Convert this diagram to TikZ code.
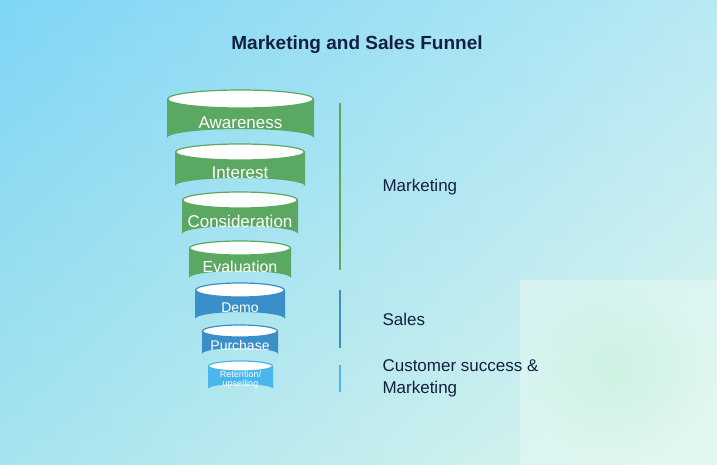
\documentclass[tikz,border=0pt]{standalone}
\usepackage{fontspec}
\setmainfont{Liberation Sans}
\definecolor{gr}{HTML}{5BA862}
\definecolor{bl}{HTML}{3A8FC8}
\definecolor{lb}{HTML}{4BB6EC}
\definecolor{navy}{HTML}{142040}
\definecolor{bgc}{HTML}{7FD6F5}
\definecolor{bgw}{HTML}{E8F9F3}
\definecolor{bgm}{HTML}{D6F4E6}
\definecolor{bgg}{HTML}{CDF2D7}
\newcommand{\cylx}[9]{%
 \fill[#6] (#1,#3) -- (#1,#4) arc[start angle=180,end angle=360,x radius={(#2-#1)/2},y radius=#5] -- (#2,#3) -- cycle;
 \filldraw[fill=white,draw=#6,line width=1.2pt] ({(#1+#2)/2},#3) ellipse[x radius={(#2-#1)/2-0.6},y radius=#5];
 \node[txt,font=\fontsize{#8}{#8}\selectfont,align=center] (#9) at ({(#1+#2)/2},{(#3+#4)/2+#5*0.5}) {#7};}
\begin{document}
\begin{tikzpicture}[x=1pt,y=-1pt,txt/.style={text=white,inner sep=0pt},
 lab/.style={text=navy,anchor=west,font=\fontsize{17}{22}\selectfont,align=left}]
\useasboundingbox (0,0) rectangle (717,465);
\shade[left color=bgc,right color=bgw] (0,0) rectangle (717,465);
\shade[top color=bgc,bottom color=bgm,opacity=0.45] (0,0) rectangle (717,465);
\shade[inner color=bgg,outer color=bgw,opacity=0.5] (520,280) rectangle (717,465);
\node[text=navy,font=\bfseries\fontsize{19}{22}\selectfont] (title) at (357,45) {Marketing and Sales Funnel};
\cylx{167}{314}{99}{138}{9}{gr}{Awareness}{17}{c1}
\cylx{175}{305}{152}{186}{8}{gr}{Interest}{17}{c2}
\cylx{182}{298}{200}{234}{8}{gr}{Consideration}{17}{c3}
\cylx{189}{291}{248}{278}{7}{gr}{Evaluation}{16}{c4}
\cylx{195}{285}{290}{319}{7}{bl}{Demo}{14}{c5}
\cylx{202}{278}{331}{354}{6}{bl}{Purchase}{14}{c6}
\cylx{208}{273}{366}{389}{5}{lb}{Retention/\\upselling}{9}{c7}
\coordinate (g1) at (340,103); \coordinate (g2) at (340,270);
\coordinate (b1) at (340,290); \coordinate (b2) at (340,348);
\coordinate (l1) at (340,365); \coordinate (l2) at (340,392);
\draw[gr,line width=1.2pt] (g1) -- (g2);
\draw[bl,line width=1.2pt] (b1) -- (b2);
\draw[lb,line width=1.2pt] (l1) -- (l2);
\node[lab] (m) at (379,187) {Marketing};
\node[lab] (s) at (379,319) {Sales};
\node[lab] (cs) at (379,378) {Customer success \&\\Marketing};
\end{tikzpicture}
\end{document}
